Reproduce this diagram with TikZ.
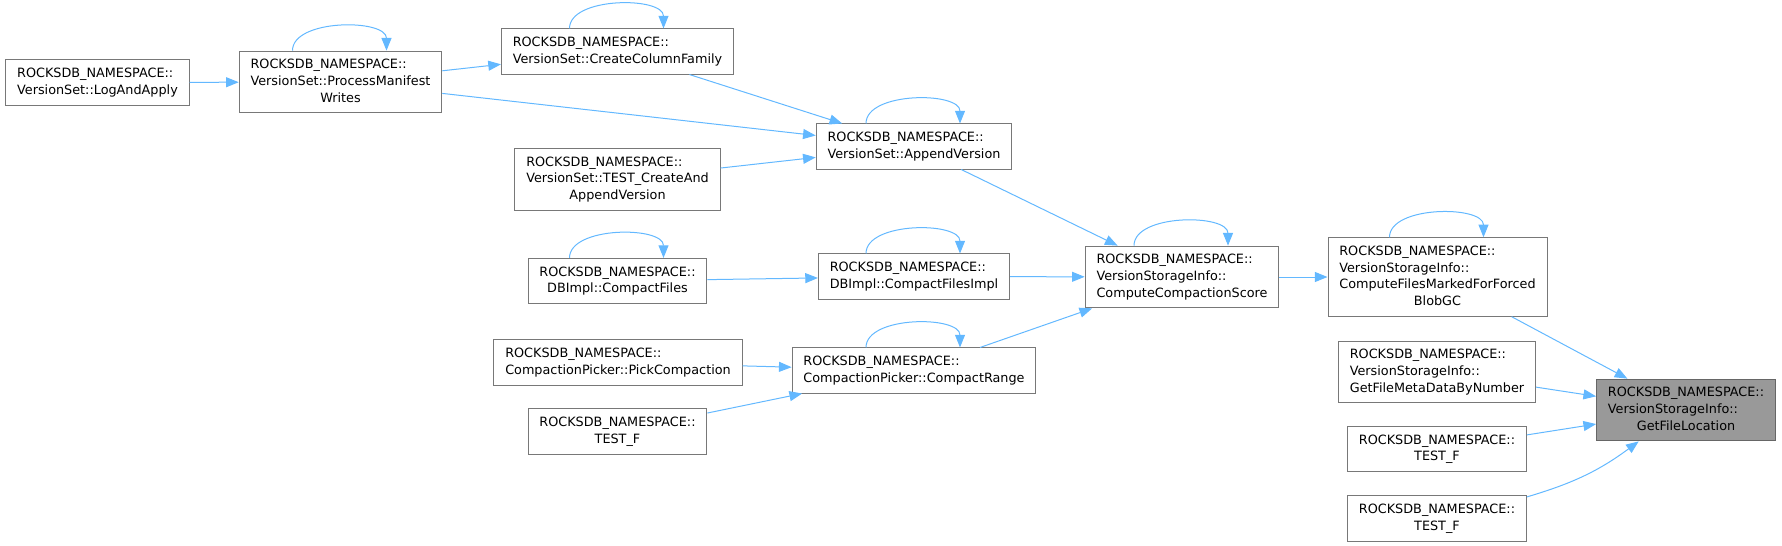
\documentclass[tikz,border=0pt]{standalone}
\usepackage{fontspec}
\newfontfamily\dxfont{DejaVu Sans}
\usetikzlibrary{arrows.meta,positioning}
\definecolor{dxEdge}{RGB}{99,184,255}
\definecolor{dxBorder}{RGB}{120,120,120}
\definecolor{dxRoot}{RGB}{153,153,153}
\definecolor{dxRootBorder}{RGB}{102,102,102}
\newcommand{\fnlabel}[2]{\begin{tabular}{@{}l@{}}#1\\\multicolumn{1}{@{}c@{}}{#2}\end{tabular}}

\begin{document}
\begin{tikzpicture}[x=0.75pt, y=-0.75pt,
  fn/.style={draw=dxBorder, line width=0.75pt, fill=white, inner xsep=8.5pt, inner ysep=4.4pt,
             font=\dxfont\fontsize{9.6}{12.5}\selectfont},
  root/.style={fn, fill=dxRoot, draw=dxRootBorder},
  call/.style={-{Triangle[length=9.5pt,width=7.5pt]}, dxEdge, line width=0.75pt}
]
  \useasboundingbox (0,0) rectangle (1782,546);

  \node[fn] (lap)  at (97.5,82.5)  {\fnlabel{ROCKSDB\_NAMESPACE::}{VersionSet::LogAndApply}};
  \node[fn] (pmw)  at (340.5,82)   {\fnlabel{ROCKSDB\_NAMESPACE::\\VersionSet::ProcessManifest}{Writes}};
  \node[fn] (ccf)  at (617.5,51.5) {\fnlabel{ROCKSDB\_NAMESPACE::}{VersionSet::CreateColumnFamily}};
  \node[fn] (tcav) at (617.5,179.5){\fnlabel{ROCKSDB\_NAMESPACE::\\VersionSet::TEST\_CreateAnd}{AppendVersion}};
  \node[fn] (cf)   at (617.5,281)  {\fnlabel{ROCKSDB\_NAMESPACE::}{DBImpl::CompactFiles}};
  \node[fn] (pc)   at (618,362.5)  {\fnlabel{ROCKSDB\_NAMESPACE::}{CompactionPicker::PickCompaction}};
  \node[fn] (tf1)  at (617.5,431.5){\fnlabel{ROCKSDB\_NAMESPACE::}{TEST\_F}};
  \node[fn] (av)   at (914,146.5)  {\fnlabel{ROCKSDB\_NAMESPACE::}{VersionSet::AppendVersion}};
  \node[fn] (cfi)  at (914,276.5)  {\fnlabel{ROCKSDB\_NAMESPACE::}{DBImpl::CompactFilesImpl}};
  \node[fn] (cr)   at (914,370.5)  {\fnlabel{ROCKSDB\_NAMESPACE::}{CompactionPicker::CompactRange}};
  \node[fn] (ccs)  at (1182,277)   {\fnlabel{ROCKSDB\_NAMESPACE::\\VersionStorageInfo::}{ComputeCompactionScore}};
  \node[fn] (cfm)  at (1437.5,277) {\fnlabel{ROCKSDB\_NAMESPACE::\\VersionStorageInfo::\\ComputeFilesMarkedForForced}{BlobGC}};
  \node[fn] (gfm)  at (1437,372)   {\fnlabel{ROCKSDB\_NAMESPACE::\\VersionStorageInfo::}{GetFileMetaDataByNumber}};
  \node[fn] (tf2)  at (1437,449)   {\fnlabel{ROCKSDB\_NAMESPACE::}{TEST\_F}};
  \node[fn] (tf3)  at (1437,518.5) {\fnlabel{ROCKSDB\_NAMESPACE::}{TEST\_F}};
  \node[root] (gfl) at (1686,410)  {\fnlabel{ROCKSDB\_NAMESPACE::\\VersionStorageInfo::}{GetFileLocation}};

  \draw[call] (lap) -- (pmw);
  \draw[call] (pmw) -- (ccf);
  \draw[call] (pmw) -- (av);
  \draw[call] (ccf) -- (av);
  \draw[call] (tcav) -- (av);
  \draw[call] (cf) -- (cfi);
  \draw[call] (pc) -- (cr);
  \draw[call] (tf1) -- (cr);
  \draw[call] (av) -- (ccs);
  \draw[call] (cfi) -- (ccs);
  \draw[call] (cr) -- (ccs);
  \draw[call] (ccs) -- (cfm);
  \draw[call] (cfm) -- (gfl);
  \draw[call] (gfm) -- (gfl);
  \draw[call] (tf2) -- (gfl);
  \draw[call] (tf3) to[bend right=10] (gfl);

  \foreach \n in {pmw,ccf,av,cf,cfi,cr,ccs,cfm}
    \draw[call] ([xshift=-36pt]\n.north) .. controls +(0,-32) and +(0,-32) .. ([xshift=34.5pt]\n.north);
\end{tikzpicture}
\end{document}
